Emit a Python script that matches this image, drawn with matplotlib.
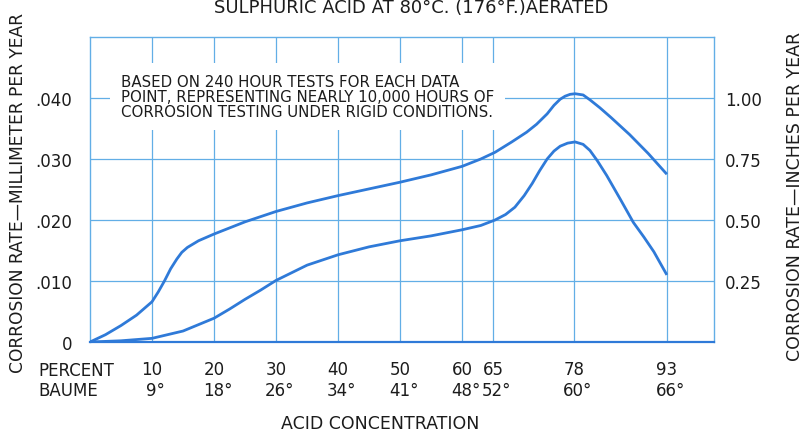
import matplotlib.pyplot as plt

# acid concentration (percent) and corrosion rate (mm per year)
upper_pct = [0, 2.5, 5, 7.5, 10, 11, 12, 13, 14, 14.8, 15.7, 17.5, 20, 25, 30, 35, 40, 45, 50,
             55, 60, 63, 65.3, 68, 70.4, 72, 73.7, 74.8, 75.8, 76.6, 77.4, 78.2, 79.5, 80.6,
             82.2, 84, 87, 90, 93]
upper_val = [0, .0012, .0027, .0044, .0066, .0082, .0100, .0120, .0136, .0147, .0155, .0166,
             .0177, .0197, .0214, .0228, .0240, .0251, .0262, .0274, .0288, .0300, .0311,
             .0328, .0344, .0357, .0374, .0388, .0398, .0403, .0406, .0407, .0405, .0397,
             .0384, .0368, .0340, .0309, .0275]

lower_pct = [0, 5, 10, 15, 20, 22.5, 25, 27.5, 30, 35, 40, 45, 50, 55, 60, 63, 65.3, 67,
             68.5, 70, 71.3, 72.5, 73.7, 74.8, 75.8, 77, 78.2, 79.5, 80.6, 81.8, 83.3, 85.5,
             87.6, 89.3, 90.9, 93]
lower_val = [0, .0002, .0006, .0018, .0039, .0054, .0070, .0085, .0101, .0126, .0143, .0156,
             .0166, .0174, .0184, .0191, .0200, .0209, .0221, .0240, .0260, .0281, .0300,
             .0313, .0321, .0326, .0328, .0324, .0314, .0297, .0273, .0234, .0196, .0172,
             .0148, .0110]

pct_ticks = [10, 20, 30, 40, 50, 60, 65, 78, 93]
baume_ticks = ["9°", "18°", "26°", "34°", "41°", "48°", "52°", "60°", "66°"]
mm_ticks = [0.010, 0.020, 0.030, 0.040]
mm_labels = [".010", ".020", ".030", ".040"]
inch_labels = ["0.25", "0.50", "0.75", "1.00"]

note = ("BASED ON 240 HOUR TESTS FOR EACH DATA\n"
        "POINT, REPRESENTING NEARLY 10,000 HOURS OF\n"
        "CORROSION TESTING UNDER RIGID CONDITIONS.")

blue = "#2f7ad8"
grid_blue = "#62aee6"
ink = "#1c1c1c"

plt.rcParams['font.family'] = ['DejaVu Sans']

fig = plt.figure(figsize=(8.05, 4.35), dpi=100)
ax = fig.add_axes([90 / 805, 92 / 435, 624 / 805, 305 / 435])

ax.plot(upper_pct, upper_val, color=blue, lw=2.0, zorder=3, solid_capstyle='butt')
ax.plot(lower_pct, lower_val, color=blue, lw=2.0, zorder=3, solid_capstyle='butt')

ax.set_xlim(0, 100.6)
ax.set_ylim(0, 0.050)

for p in pct_ticks:
    ax.axvline(p, color=grid_blue, lw=0.9, zorder=1)
for v in mm_ticks:
    ax.axhline(v, color=grid_blue, lw=0.9, zorder=1)
for s in ax.spines.values():
    s.set_color(grid_blue)
    s.set_linewidth(1.0)
ax.spines['bottom'].set_color(blue)
ax.spines['bottom'].set_linewidth(1.6)

ax.set_xticks([])
ax.set_yticks([0] + mm_ticks)
ax.set_yticklabels(["0"] + mm_labels, fontsize=12, color=ink)
ax.tick_params(axis='y', length=0, pad=13)

ax2 = ax.twinx()
ax2.set_ylim(ax.get_ylim())
ax2.set_yticks(mm_ticks)
ax2.set_yticklabels(inch_labels, fontsize=12, color=ink)
ax2.tick_params(axis='y', length=0, pad=8)
for s in ax2.spines.values():
    s.set_visible(False)

# two-row x tick labels
tr = ax.get_xaxis_transform()
for p, b in zip(pct_ticks, baume_ticks):
    ax.text(p, -(370 - 343) / 305, str(p), transform=tr, ha='center', va='center',
            fontsize=12, color=ink)
    ax.text(p + 0.6, -(391 - 343) / 305, b, transform=tr, ha='center', va='center',
            fontsize=12, color=ink)
fig.text(38 / 805, 1 - 371 / 435, "PERCENT", ha='left', va='center', fontsize=12, color=ink)
fig.text(38 / 805, 1 - 391 / 435, "BAUME", ha='left', va='center', fontsize=12, color=ink)
fig.text(380 / 805, 1 - 424 / 435, "ACID CONCENTRATION", ha='center', va='center',
         fontsize=12.5, color=ink)

fig.text(411 / 805, 1 - 8 / 435, "SULPHURIC ACID AT 80°C. (176°F.)AERATED",
         ha='center', va='center', fontsize=13, color=ink)
fig.text(18 / 805, 1 - 193 / 435, "CORROSION RATE—MILLIMETER PER YEAR", rotation=90,
         ha='center', va='center', fontsize=12.3, color=ink)
fig.text(795 / 805, 1 - 196 / 435, "CORROSION RATE—INCHES PER YEAR", rotation=90,
         ha='center', va='center', fontsize=12.5, color=ink)

ax.text(5.0, 0.0402, note, ha='left', va='center', fontsize=10.8, color=ink,
        linespacing=1.0, zorder=4,
        bbox=dict(facecolor='white', edgecolor='none', pad=8))

fig.savefig("out.png", dpi=100, facecolor='white')
